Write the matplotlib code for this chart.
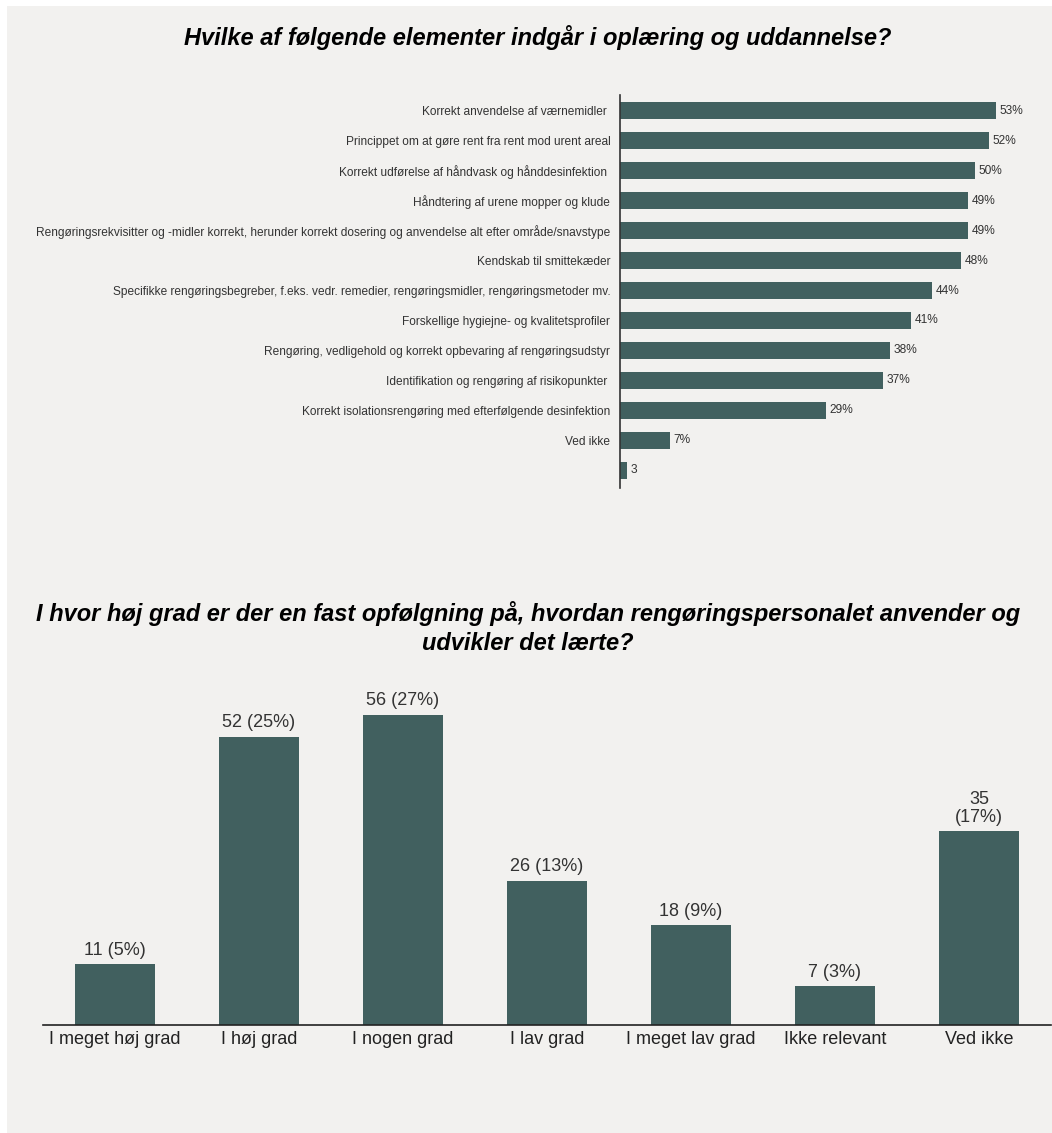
import matplotlib.pyplot as plt
from matplotlib.patches import Rectangle

# data
top_labels = [
    "Korrekt anvendelse af værnemidler ",
    "Princippet om at gøre rent fra rent mod urent areal",
    "Korrekt udførelse af håndvask og hånddesinfektion ",
    "Håndtering af urene mopper og klude",
    "Rengøringsrekvisitter og -midler korrekt, herunder korrekt dosering og anvendelse alt efter område/snavstype",
    "Kendskab til smittekæder",
    "Specifikke rengøringsbegreber, f.eks. vedr. remedier, rengøringsmidler, rengøringsmetoder mv.",
    "Forskellige hygiejne- og kvalitetsprofiler",
    "Rengøring, vedligehold og korrekt opbevaring af rengøringsudstyr",
    "Identifikation og rengøring af risikopunkter ",
    "Korrekt isolationsrengøring med efterfølgende desinfektion",
    "Ved ikke",
    "",
]
top_values = [53, 52, 50, 49, 49, 48, 44, 41, 38, 37, 29, 7, 1]
top_texts = ["53%", "52%", "50%", "49%", "49%", "48%", "44%", "41%", "38%", "37%", "29%", "7%", "3"]

bot_labels = ["I meget høj grad", "I høj grad", "I nogen grad", "I lav grad",
              "I meget lav grad", "Ikke relevant", "Ved ikke"]
bot_counts = [11, 52, 56, 26, 18, 7, 35]
bot_texts = ["11 (5%)", "52 (25%)", "56 (27%)", "26 (13%)", "18 (9%)", "7 (3%)", "35\n(17%)"]

bar_color = "#41605f"
bg = "#f2f1ef"
plt.rcParams['font.family'] = ['Liberation Sans', 'DejaVu Sans']

W, H = 1052, 1133
fig = plt.figure(figsize=(W / 100, H / 100), dpi=100)
fig.patch.set_facecolor("white")
fig.add_artist(Rectangle((7 / W, 0), 1, 1 - 6 / H, transform=fig.transFigure,
                         facecolor=bg, edgecolor="none", zorder=-10))


def fx(px):
    return px / W


def fy(py):
    return 1 - py / H


# top chart
ax1 = fig.add_axes([fx(620), fy(485), fx(1046 - 620), fy(96) - fy(485)])
ax1.set_facecolor("none")
y = list(range(len(top_values)))
ax1.barh(y, top_values, height=0.57, color=bar_color)
ax1.set_xlim(0, 426 / 7.1)
ax1.set_ylim(len(top_values) - 0.5, -0.5)
for i, (v, t) in enumerate(zip(top_values, top_texts)):
    ax1.text(v + 0.5, i, t, va="center", ha="left", fontsize=8.55, color="#333333")
ax1.set_yticks(y)
ax1.set_yticklabels(top_labels, fontsize=8.55, color="#333333")
ax1.tick_params(axis="y", length=0, pad=7)
ax1.set_xticks([])
for s in ["top", "right", "bottom"]:
    ax1.spines[s].set_visible(False)
ax1.spines["left"].set_color("#333333")
ax1.spines["left"].set_linewidth(1.2)
ax1.spines["left"].set_bounds(len(top_values) - 0.4, -0.55)
fig.text(fx(538), fy(38), "Hvilke af følgende elementer indgår i oplæring og uddannelse?",
         ha="center", va="center", fontsize=17, fontweight="bold", fontstyle="italic")

# bottom chart
ax2 = fig.add_axes([fx(43), fy(1025), fx(1051 - 43), fy(680) - fy(1025)])
ax2.set_facecolor("none")
x = list(range(len(bot_counts)))
ax2.bar(x, bot_counts, width=0.55, color=bar_color)
ax2.set_xlim(-0.5, len(bot_counts) - 0.5)
ax2.set_ylim(0, 345 / 5.54)
for i, (v, t) in enumerate(zip(bot_counts, bot_texts)):
    ax2.text(i, v + 1.0, t, ha="center", va="bottom", fontsize=13, color="#333333",
             linespacing=1.05)
ax2.set_xticks(x)
ax2.set_xticklabels(bot_labels, fontsize=13, color="#222222")
ax2.tick_params(axis="x", length=0, pad=4)
ax2.set_yticks([])
for s in ["top", "right", "left"]:
    ax2.spines[s].set_visible(False)
ax2.spines["bottom"].set_color("#222222")
ax2.spines["bottom"].set_linewidth(1.2)
fig.text(fx(528), fy(628),
         "I hvor høj grad er der en fast opfølgning på, hvordan rengøringspersonalet anvender og\nudvikler det lærte?",
         ha="center", va="center", fontsize=17, fontweight="bold", fontstyle="italic",
         linespacing=1.3)

fig.savefig("out.png", dpi=100, facecolor=fig.get_facecolor())
